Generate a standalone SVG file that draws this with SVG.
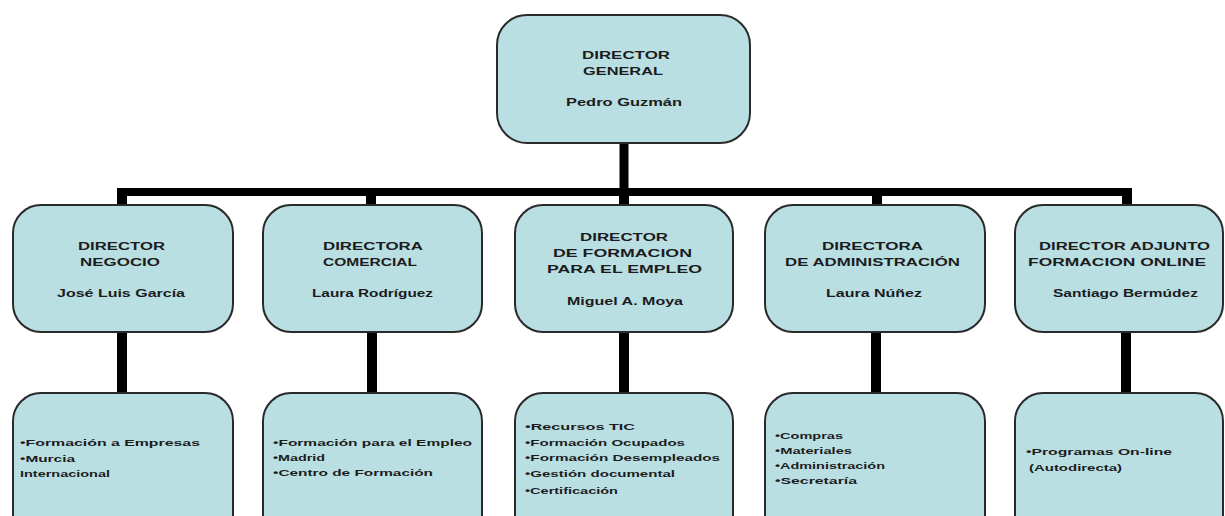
<svg xmlns="http://www.w3.org/2000/svg" width="1225" height="516" viewBox="0 0 1225 516">
<style>
.box{fill:#b9dfe3;stroke:#2a2a2a;stroke-width:2}
.t{font-family:"Liberation Sans",Arial,sans-serif;font-size:10px;font-weight:bold;fill:#1c1c1c}
.i{font-family:"Liberation Sans",Arial,sans-serif;font-size:9.5px;font-weight:bold;fill:#1c1c1c}
.ln{stroke:#000;fill:none}
</style>
<rect width="1225" height="516" fill="#ffffff"/>
<g id="connectors">
<line class="ln" x1="624" y1="143" x2="624" y2="193" stroke-width="9"/>
<line class="ln" x1="117" y1="192" x2="1132" y2="192" stroke-width="8"/>
<line class="ln" x1="122" y1="188" x2="122" y2="206" stroke-width="10"/>
<line class="ln" x1="371" y1="188" x2="371" y2="206" stroke-width="10"/>
<line class="ln" x1="624" y1="188" x2="624" y2="206" stroke-width="10"/>
<line class="ln" x1="877" y1="188" x2="877" y2="206" stroke-width="10"/>
<line class="ln" x1="1127" y1="188" x2="1127" y2="206" stroke-width="10"/>
<line class="ln" x1="122" y1="332" x2="122" y2="394" stroke-width="10"/>
<line class="ln" x1="372" y1="332" x2="372" y2="394" stroke-width="10"/>
<line class="ln" x1="624" y1="332" x2="624" y2="394" stroke-width="10"/>
<line class="ln" x1="876" y1="332" x2="876" y2="394" stroke-width="10"/>
<line class="ln" x1="1126" y1="332" x2="1126" y2="394" stroke-width="10"/>
</g>
<g id="director-general">
<rect class="box" x="497" y="15" width="253" height="128" rx="30"/>
<text class="t" x="582" y="59" textLength="88" lengthAdjust="spacingAndGlyphs">DIRECTOR</text>
<text class="t" x="583" y="75" textLength="80" lengthAdjust="spacingAndGlyphs">GENERAL</text>
<text class="t" x="566" y="106" textLength="116" lengthAdjust="spacingAndGlyphs">Pedro Guzmán</text>
</g>
<g id="director-negocio">
<rect class="box" x="13" y="205" width="220" height="127" rx="28"/>
<text class="t" x="78" y="250" textLength="87" lengthAdjust="spacingAndGlyphs">DIRECTOR</text>
<text class="t" x="80" y="266" textLength="80" lengthAdjust="spacingAndGlyphs">NEGOCIO</text>
<text class="t" x="57" y="297" textLength="128" lengthAdjust="spacingAndGlyphs">José Luis García</text>
</g>
<g id="directora-comercial">
<rect class="box" x="263" y="205" width="219" height="127" rx="28"/>
<text class="t" x="323" y="250" textLength="100" lengthAdjust="spacingAndGlyphs">DIRECTORA</text>
<text class="t" x="323" y="266" textLength="94" lengthAdjust="spacingAndGlyphs">COMERCIAL</text>
<text class="t" x="312" y="297" textLength="121" lengthAdjust="spacingAndGlyphs">Laura Rodríguez</text>
</g>
<g id="director-formacion-empleo">
<rect class="box" x="515" y="205" width="218" height="127" rx="28"/>
<text class="t" x="580" y="241" textLength="88" lengthAdjust="spacingAndGlyphs">DIRECTOR</text>
<text class="t" x="553" y="257" textLength="139" lengthAdjust="spacingAndGlyphs">DE FORMACION</text>
<text class="t" x="547" y="273" textLength="155" lengthAdjust="spacingAndGlyphs">PARA EL EMPLEO</text>
<text class="t" x="567" y="305" textLength="116" lengthAdjust="spacingAndGlyphs">Miguel A. Moya</text>
</g>
<g id="directora-administracion">
<rect class="box" x="765" y="205" width="220" height="127" rx="28"/>
<text class="t" x="822" y="250" textLength="101" lengthAdjust="spacingAndGlyphs">DIRECTORA</text>
<text class="t" x="785" y="266" textLength="175" lengthAdjust="spacingAndGlyphs">DE ADMINISTRACIÓN</text>
<text class="t" x="826" y="297" textLength="96" lengthAdjust="spacingAndGlyphs">Laura Núñez</text>
</g>
<g id="director-adjunto-online">
<rect class="box" x="1015" y="205" width="208" height="127" rx="28"/>
<text class="t" x="1039" y="250" textLength="171" lengthAdjust="spacingAndGlyphs">DIRECTOR ADJUNTO</text>
<text class="t" x="1028" y="266" textLength="178" lengthAdjust="spacingAndGlyphs">FORMACION ONLINE</text>
<text class="t" x="1053" y="297" textLength="145" lengthAdjust="spacingAndGlyphs">Santiago Bermúdez</text>
</g>
<g id="areas-negocio">
<rect class="box" x="13" y="393" width="220" height="150" rx="28"/>
<text class="i" x="20" y="446" textLength="180" lengthAdjust="spacingAndGlyphs">•Formación a Empresas</text>
<text class="i" x="20" y="462" textLength="55" lengthAdjust="spacingAndGlyphs">•Murcia</text>
<text class="i" x="20" y="477" textLength="90" lengthAdjust="spacingAndGlyphs">Internacional</text>
</g>
<g id="areas-comercial">
<rect class="box" x="263" y="393" width="219" height="150" rx="28"/>
<text class="i" x="273" y="446" textLength="199" lengthAdjust="spacingAndGlyphs">•Formación para el Empleo</text>
<text class="i" x="273" y="461" textLength="52" lengthAdjust="spacingAndGlyphs">•Madrid</text>
<text class="i" x="273" y="476" textLength="160" lengthAdjust="spacingAndGlyphs">•Centro de Formación</text>
</g>
<g id="areas-formacion">
<rect class="box" x="515" y="393" width="218" height="150" rx="28"/>
<text class="i" x="525" y="430" textLength="110" lengthAdjust="spacingAndGlyphs">•Recursos TIC</text>
<text class="i" x="525" y="446" textLength="160" lengthAdjust="spacingAndGlyphs">•Formación Ocupados</text>
<text class="i" x="525" y="461" textLength="195" lengthAdjust="spacingAndGlyphs">•Formación Desempleados</text>
<text class="i" x="525" y="477" textLength="150" lengthAdjust="spacingAndGlyphs">•Gestión documental</text>
<text class="i" x="525" y="494" textLength="93" lengthAdjust="spacingAndGlyphs">•Certificación</text>
</g>
<g id="areas-administracion">
<rect class="box" x="765" y="393" width="220" height="150" rx="28"/>
<text class="i" x="775" y="439" textLength="68" lengthAdjust="spacingAndGlyphs">•Compras</text>
<text class="i" x="775" y="454" textLength="77" lengthAdjust="spacingAndGlyphs">•Materiales</text>
<text class="i" x="775" y="469" textLength="110" lengthAdjust="spacingAndGlyphs">•Administración</text>
<text class="i" x="775" y="484" textLength="82" lengthAdjust="spacingAndGlyphs">•Secretaría</text>
</g>
<g id="areas-online">
<rect class="box" x="1015" y="393" width="208" height="150" rx="28"/>
<text class="i" x="1026" y="455" textLength="146" lengthAdjust="spacingAndGlyphs">•Programas On-line</text>
<text class="i" x="1029" y="471" textLength="93" lengthAdjust="spacingAndGlyphs">(Autodirecta)</text>
</g>
</svg>
